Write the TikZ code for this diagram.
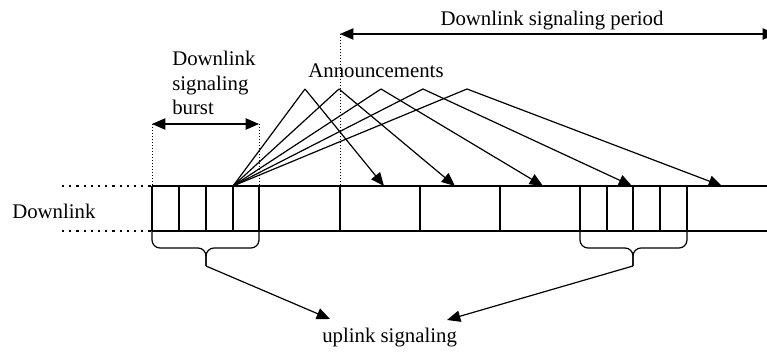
\documentclass[tikz,border=0pt]{standalone}
\usepackage{fontspec}
\setmainfont{Liberation Serif}
\usetikzlibrary{arrows.meta}
\begin{document}
\begin{tikzpicture}[x=0.75pt,y=-0.75pt,
  lbl/.style={inner sep=0pt,font=\fontsize{15.6}{18.4}\selectfont},
  ln/.style={line width=0.9pt},
  arr/.style={ln,-{Triangle[length=10pt,width=8.5pt]}},
  darr/.style={ln,{Triangle[length=10pt,width=8.5pt]}-{Triangle[length=10pt,width=8.5pt]}},
  thindot/.style={line width=0.6pt,dash pattern=on 0.75pt off 1.5pt},
  bigdot/.style={line width=1.8pt,dash pattern=on 1.6pt off 3.8pt},
  brace/.style={ln,rounded corners=6pt}]
\useasboundingbox (0,0) rectangle (767,352);
% frame
\coordinate (TL) at (152,186); \coordinate (TR) at (767,186);
\coordinate (BL) at (152,231); \coordinate (BR) at (767,231);
\draw[ln] (TL) -- (TR);
\draw[ln] (BL) -- (BR);
\foreach \x in {152,179,206,233,259,340,420,500,580,607,633,660,687}
  \draw[ln] (\x,186) -- (\x,231);
% left dotted
\coordinate (DT) at (62,186); \coordinate (DB) at (62,231);
\draw[bigdot] (DT) -- (TL);
\draw[bigdot] (DB) -- (BL);
\node[lbl,anchor=base west] (dl) at (12,219) {Downlink};
% burst
\coordinate (bA) at (152,124); \coordinate (bB) at (259,124);
\draw[thindot] (bA) -- (152,186);
\draw[thindot] (bB) -- (259,186);
\draw[darr] (bA) -- (bB);
\node[lbl,anchor=north west,align=left] (burst) at (172,51) {Downlink\\signaling\\burst};
% period
\coordinate (pA) at (340,34); \coordinate (pB) at (776,34);
\draw[thindot] (pA) -- (340,186);
\draw[darr] (pA) -- (pB);
\node[lbl,anchor=base] (period) at (552,26) {Downlink signaling period};
% announcements
\node[lbl,anchor=base] (ann) at (376,78) {Announcements};
\coordinate (O) at (233,186);
\foreach \p/\t [count=\i] in {305/384,339/455,381/543,423/632,467/722}{
  \coordinate (pk\i) at (\p,89);
  \coordinate (tg\i) at (\t,186);
  \draw[ln] (O) -- (pk\i);
  \draw[arr] (pk\i) -- (tg\i);
}
% braces
\coordinate (t1) at (206,266); \coordinate (t2) at (633,266);
\draw[brace] (152,231) -- (152,248) -- (206,248) -- (t1);
\draw[brace] (259,231) -- (259,248) -- (206,248) -- (t1);
\draw[brace] (580,231) -- (580,248) -- (633,248) -- (t2);
\draw[brace] (687,231) -- (687,248) -- (633,248) -- (t2);
\node[lbl,anchor=base west] (up) at (322,343) {uplink signaling};
\coordinate (u1) at (330,319); \coordinate (u2) at (447,320);
\draw[arr] (t1) -- (u1);
\draw[arr] (t2) -- (u2);
\end{tikzpicture}
\end{document}
